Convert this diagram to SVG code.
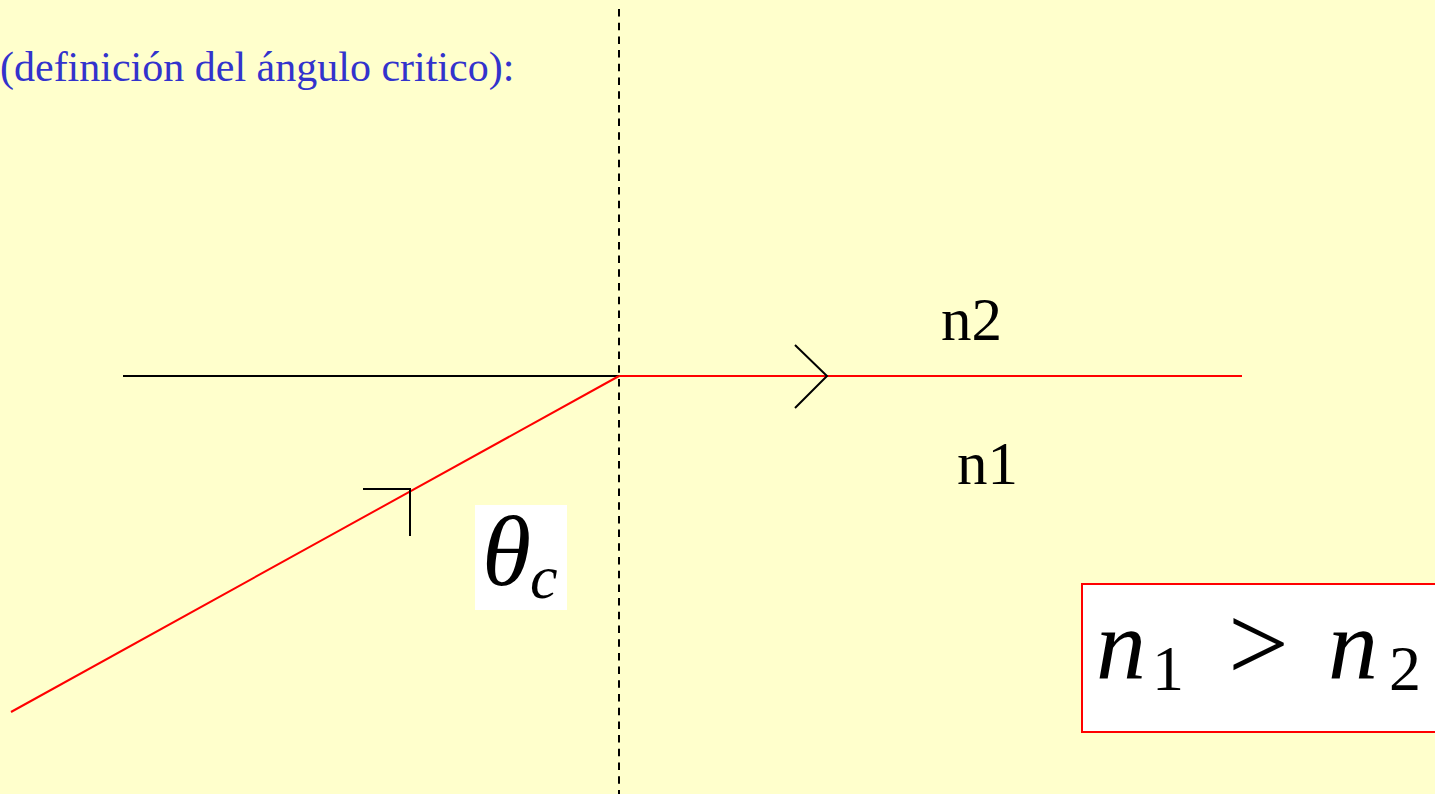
<svg xmlns="http://www.w3.org/2000/svg" width="1435" height="794" viewBox="0 0 1435 794">
<style>
.serif{font-family:"Liberation Serif","Times New Roman",serif}
.math{font-family:"Liberation Serif","DejaVu Serif",serif;font-style:italic;fill:#000}
.rm{font-family:"Liberation Serif","DejaVu Serif",serif;fill:#000}
.lab{font-size:61px;fill:#000}
</style>
<rect width="1435" height="794" fill="#FFFFCC"/>
<text class="serif" x="0" y="81" font-size="42" fill="#3333CC">(definición del ángulo critico):</text>
<g id="connectors" fill="none">
<line x1="619" y1="9" x2="619" y2="794" stroke="#000" stroke-width="2" stroke-dasharray="7.5,6.2"/>
<line x1="123" y1="376" x2="619" y2="376" stroke="#000" stroke-width="2"/>
<line x1="619" y1="376" x2="1242" y2="376" stroke="#FF0000" stroke-width="2"/>
<line x1="11" y1="712" x2="619" y2="376" stroke="#FF0000" stroke-width="2"/>
<polyline points="795,345 827,376 795,408" stroke="#000" stroke-width="2"/>
<polyline points="363,489 410,489 410,536" stroke="#000" stroke-width="2"/>
</g>
<g id="n2"><text class="serif lab" x="941" y="340">n2</text></g>
<g id="n1"><text class="serif lab" x="957" y="484">n1</text></g>
<g id="theta">
<rect x="475" y="505" width="92" height="105" fill="#FFFFFF"/>
<text class="math" x="482" y="585" font-size="100">θ</text>
<text class="math" x="530" y="598" font-size="62">c</text>
</g>
<g id="ineq">
<rect x="1082" y="584" width="360" height="148" fill="#FFFFFF" stroke="#FF0000" stroke-width="2"/>
<text class="math" x="1096" y="678" font-size="100">n</text>
<text class="rm" x="1152" y="690" font-size="64">1</text>
<text class="rm" x="1228" y="680" font-size="108">&gt;</text>
<text class="math" x="1328" y="678" font-size="100">n</text>
<text class="rm" x="1389" y="690" font-size="64">2</text>
</g>
</svg>
